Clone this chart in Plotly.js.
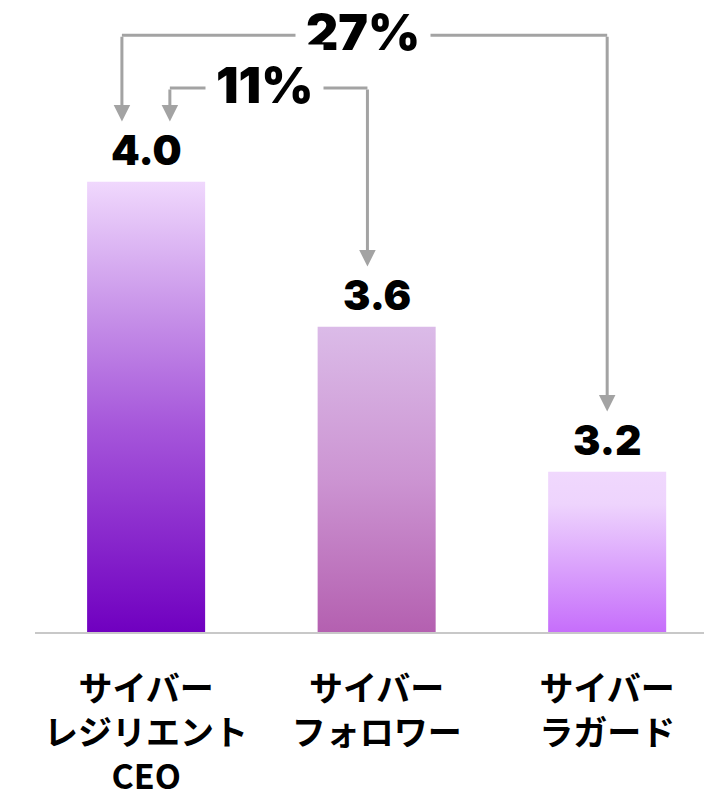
<!DOCTYPE html>
<html>
<head>
<meta charset="utf-8">
<script src="https://cdn.plot.ly/plotly-3.0.1.min.js"></script>
<style>
  html, body { margin: 0; padding: 0; background: #ffffff; }
  #chart { width: 704px; height: 799px; }
</style>
</head>
<body>
<div id="chart"></div>
<script>
// ---- data ----
var categories = ['サイバー<br>レジリエント<br>CEO', 'サイバー<br>フォロワー', 'サイバー<br>ラガード'];
var values = [4.0, 3.6, 3.2];
var valueLabels = ['4.0', '3.6', '3.2'];
var gapLabels = ['27%', '11%'];

// ---- styles ----
var gradients = [
  [[0, '#f0d8fd'], [0.3, '#c690e8'], [0.55, '#a555da'], [1, '#7000c0']],
  [[0, '#dbbbe8'], [0.5, '#cc94d2'], [1, '#b460b0']],
  [[0, '#f0d8fd'], [0.2, '#eed4fd'], [1, '#c66efb']]
];
var midColors = ['#a555da', '#cc94d2', '#e2b4fb'];
var numFont = {family: 'Inter, Roboto, sans-serif', size: 41, color: '#000000', weight: 900};
var pctFont = {family: 'Inter, Roboto, sans-serif', size: 50, color: '#000000', weight: 900};
var connColor = '#a3a3a3';
var yMin = 2.758, yMax = 4.501;

var trace = {
  type: 'bar',
  x: categories,
  y: values,
  width: 0.512,
  marker: {color: midColors, line: {width: 0}},
  hoverinfo: 'none'
};

var annotations = [];
// value labels above bars
for (var i = 0; i < values.length; i++) {
  annotations.push({
    x: categories[i], y: values[i], xref: 'x', yref: 'y',
    text: valueLabels[i], showarrow: false,
    yanchor: 'bottom', yshift: 5, font: numFont
  });
}

// connectors
var tipOff = 0.166;
var connectors = [
  {xl: -0.105, xr: 2, y: 4.404, tl: values[0] + tipOff, tr: values[2] + tipOff, lx: 0.939, label: gapLabels[0]},
  {xl: 0.103, xr: 0.96, y: 4.258, tl: values[0] + tipOff, tr: values[1] + tipOff, lx: 0.513, label: gapLabels[1]}
];
var shapes = [];
connectors.forEach(function (c) {
  shapes.push({type: 'line', xref: 'x', yref: 'y', x0: c.xl, x1: c.xr, y0: c.y, y1: c.y,
    line: {color: connColor, width: 3}, layer: 'above'});
  [[c.xl, c.tl], [c.xr, c.tr]].forEach(function (p) {
    annotations.push({
      x: p[0], y: p[1], xref: 'x', yref: 'y',
      ax: p[0], ay: c.y, axref: 'x', ayref: 'y',
      text: '', showarrow: true, arrowhead: 2, arrowsize: 1.1,
      arrowwidth: 3, arrowcolor: connColor, standoff: 0, startstandoff: 0
    });
  });
  annotations.push({
    x: c.lx, y: c.y, xref: 'x', yref: 'y', text: c.label, showarrow: false,
    font: pctFont, bgcolor: '#ffffff', borderpad: 10, yshift: 3
  });
});

var layout = {
  width: 704, height: 799,
  margin: {l: 35, r: 0, t: 0, b: 167, pad: 0},
  paper_bgcolor: '#ffffff', plot_bgcolor: '#ffffff',
  showlegend: false,
  xaxis: {
    type: 'category', range: [-0.482, 2.420], fixedrange: true,
    showgrid: false, zeroline: false, showline: true,
    linecolor: '#c8c8c8', linewidth: 2, ticks: '',
    ticklabelstandoff: 26,
    tickfont: {family: '"Noto Sans CJK JP", sans-serif', size: 34, color: '#000000', weight: 700},
    automargin: false
  },
  yaxis: {range: [yMin, yMax], visible: false, fixedrange: true, showgrid: false, zeroline: false},
  shapes: shapes,
  annotations: annotations
};

var gd = document.getElementById('chart');
Plotly.newPlot(gd, [trace], layout, {displayModeBar: false, staticPlot: true}).then(function () {
  var ns = 'http://www.w3.org/2000/svg';
  var svg = gd.querySelector('svg.main-svg');
  var defs = svg.querySelector('defs');
  var ya = gd._fullLayout.yaxis;
  var paths = gd.querySelectorAll('.barlayer .point path');
  paths.forEach(function (p, i) {
    var id = 'barGrad' + i;
    var g = document.createElementNS(ns, 'linearGradient');
    g.setAttribute('id', id);
    g.setAttribute('gradientUnits', 'userSpaceOnUse');
    g.setAttribute('x1', 0); g.setAttribute('x2', 0);
    g.setAttribute('y1', ya.c2p(values[i]));
    g.setAttribute('y2', ya._length);
    gradients[i].forEach(function (s) {
      var st = document.createElementNS(ns, 'stop');
      st.setAttribute('offset', s[0]);
      st.setAttribute('stop-color', s[1]);
      g.appendChild(st);
    });
    defs.appendChild(g);
    p.style.fill = 'url(#' + id + ')';
  });
});
</script>
</body>
</html>
